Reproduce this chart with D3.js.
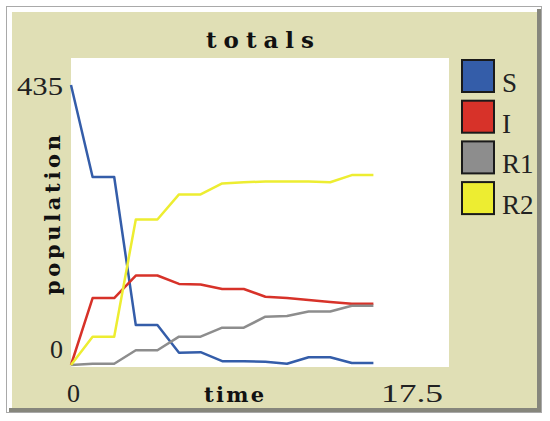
<!DOCTYPE html>
<html>
<head>
<meta charset="utf-8">
<script src="https://cdn.jsdelivr.net/npm/d3@7"></script>
<style>
  body { margin: 0; background: #fff; }
</style>
</head>
<body>
<div id="chart"></div>
<script>
const width = 550;
const height = 421;

// data
const times = [0, 1, 2, 3, 4, 5, 6, 7, 8, 9, 10, 11, 12, 13, 14];
const S  = [435, 292, 292, 62, 62, 19, 20, 6, 6, 5, 2, 12, 12, 3, 3];
const I  = [0, 104, 104, 139, 139, 126, 125, 118, 118, 106, 104, 101, 98, 95, 95];
const R1 = [0, 2, 2, 23, 23, 44, 44, 58, 58, 75, 76, 83, 83, 92, 92];
const R2 = [0, 44, 44, 226, 226, 265, 265, 282, 284, 285, 285, 285, 284, 295, 295];
const names = ["S", "I", "R1", "R2"];
const colors = ["#345da9", "#d73229", "#8d8d8d", "#eded31"];
const xLabels = ["0", "17.5"];
const yLabels = ["435", "0"];

const series = [S, I, R1, R2].map((vals, i) => ({
    name: names[i],
    color: colors[i],
    values: vals.map((v, j) => ({ t: times[j], v: v }))
}));

const plot = { left: 71, right: 449, top: 58, bottom: 367 };

const svg = d3.select("#chart")
    .append("svg")
    .attr("width", width)
    .attr("height", height);

// frame
svg.append("rect")
    .attr("x", 6.5).attr("y", 6.5)
    .attr("width", 535).attr("height", 406)
    .attr("fill", "#fff")
    .attr("stroke", "#a9a9a9");
svg.append("rect")
    .attr("x", 12).attr("y", 12)
    .attr("width", 526).attr("height", 396)
    .attr("fill", "#e0dfb5");
svg.append("path")
    .attr("d", "M539,9V410H9")
    .attr("fill", "none")
    .attr("stroke", "#86867c")
    .attr("stroke-width", 4);

// plot area
svg.append("rect")
    .attr("x", plot.left).attr("y", plot.top)
    .attr("width", plot.right - plot.left)
    .attr("height", plot.bottom - plot.top)
    .attr("fill", "#fff");

const x = d3.scaleLinear().domain([0, 17.5]).range([plot.left, plot.right]);
const y = d3.scaleLinear().domain([0, 435]).range([365, 85]);

const line = d3.line()
    .x(d => x(d.t))
    .y(d => y(d.v));

svg.append("g")
    .selectAll("path")
    .data(series)
    .enter()
    .append("path")
    .attr("d", d => line(d.values))
    .attr("fill", "none")
    .attr("stroke", d => d.color)
    .attr("stroke-width", 2.5)
    .attr("stroke-linejoin", "round");

// title + axis labels
const boldFont = "DejaVu Serif";
const numFont = "Liberation Serif";

svg.append("text")
    .attr("x", 260).attr("y", 48)
    .attr("text-anchor", "middle")
    .attr("font-family", boldFont)
    .attr("font-weight", "bold")
    .attr("font-size", 23)
    .attr("textLength", 108)
    .attr("lengthAdjust", "spacing")
    .attr("fill", "#111")
    .text("totals");

svg.append("text")
    .attr("x", 63).attr("y", 95)
    .attr("text-anchor", "end")
    .attr("font-family", numFont)
    .attr("font-size", 26)
    .attr("textLength", 46)
    .attr("lengthAdjust", "spacingAndGlyphs")
    .attr("fill", "#222")
    .text(yLabels[0]);

svg.append("text")
    .attr("x", 63).attr("y", 358)
    .attr("text-anchor", "end")
    .attr("font-family", numFont)
    .attr("font-size", 26)
    .attr("fill", "#222")
    .text(yLabels[1]);

svg.append("text")
    .attr("x", 67).attr("y", 402)
    .attr("font-family", numFont)
    .attr("font-size", 26)
    .attr("fill", "#222")
    .text(xLabels[0]);

svg.append("text")
    .attr("x", 443).attr("y", 402)
    .attr("text-anchor", "end")
    .attr("font-family", numFont)
    .attr("font-size", 26)
    .attr("textLength", 62)
    .attr("lengthAdjust", "spacingAndGlyphs")
    .attr("fill", "#222")
    .text(xLabels[1]);

svg.append("text")
    .attr("x", 234).attr("y", 402)
    .attr("text-anchor", "middle")
    .attr("font-family", boldFont)
    .attr("font-weight", "bold")
    .attr("font-size", 21)
    .attr("textLength", 60)
    .attr("lengthAdjust", "spacing")
    .attr("fill", "#111")
    .text("time");

svg.append("text")
    .attr("transform", "translate(60,215) rotate(-90)")
    .attr("text-anchor", "middle")
    .attr("font-family", boldFont)
    .attr("font-weight", "bold")
    .attr("font-size", 21)
    .attr("textLength", 160)
    .attr("lengthAdjust", "spacing")
    .attr("fill", "#111")
    .text("population");

// legend
const legend = svg.append("g")
    .selectAll("g")
    .data(series)
    .enter()
    .append("g")
    .attr("transform", (d, i) => `translate(462, ${60 + i * 40.7})`);

legend.append("rect")
    .attr("width", 32).attr("height", 32)
    .attr("fill", d => d.color)
    .attr("stroke", "#1a1a1a")
    .attr("stroke-width", 2);

legend.append("text")
    .attr("x", 40).attr("y", 32)
    .attr("font-family", numFont)
    .attr("font-size", 27)
    .attr("fill", "#222")
    .text(d => d.name);
</script>
</body>
</html>
